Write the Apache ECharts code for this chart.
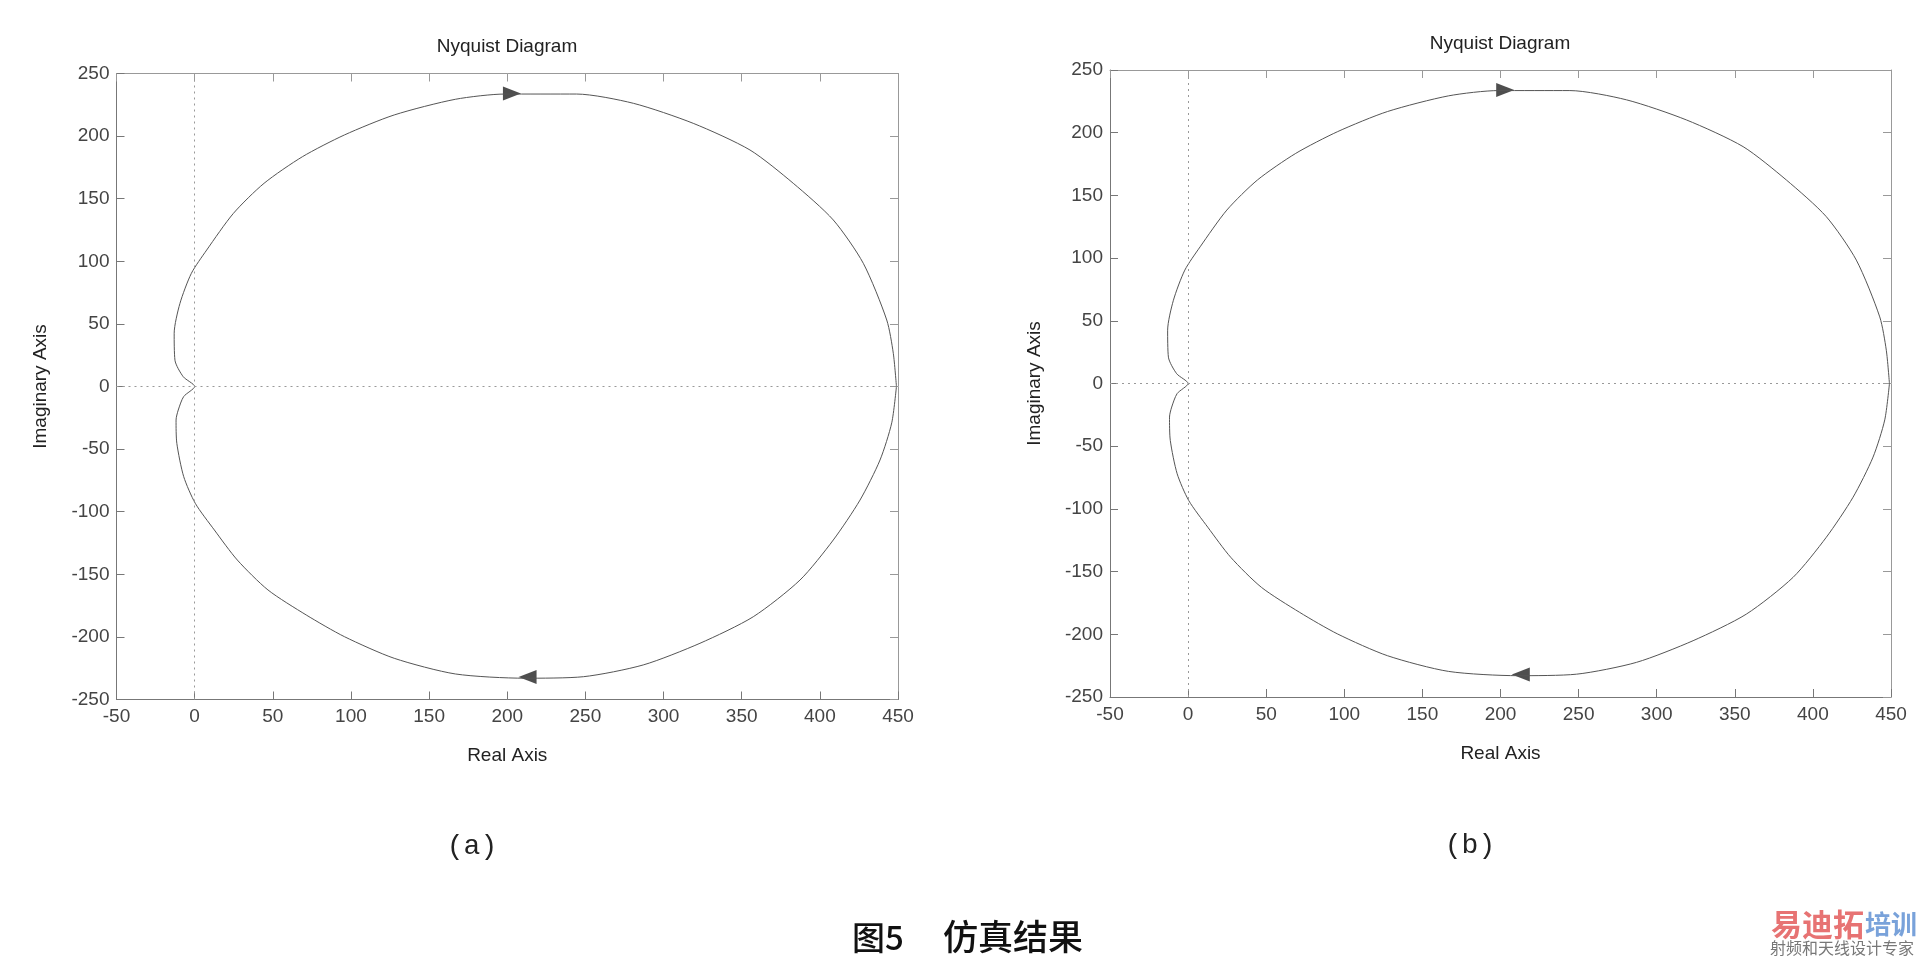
<!DOCTYPE html>
<html>
<head>
<meta charset="utf-8">
<title>Nyquist Diagram</title>
<script src="https://cdn.jsdelivr.net/npm/echarts@6/dist/echarts.min.js"></script>
<style>
  html, body { margin: 0; padding: 0; background: #fff; }
  #chart { width: 1923px; height: 966px; }
</style>
</head>
<body>
<div id="chart"></div>
<script>
// positive frequencies: from DC gain (450, 0) down round to the origin
const realLower = [449, 446, 438.5, 425.7, 408.6, 387.3, 357.4, 323.3, 287, 248.7, 211, 166.8, 127.7, 95.8, 71.4, 46.9, 27.3, 12.6, 0.4, -7, -11.4, -11.9, -10.5, -7, 0]
const imagLower = [0, -29, -58.7, -90.7, -122.6, -154.6, -183.9, -205.1, -222.4, -231.8, -233, -229.6, -217.1, -199.8, -182.5, -162.5, -138.6, -114.6, -93.3, -72, -45.4, -26.8, -18.8, -8, 0]
// negative frequencies: from the origin over the top back to (450, 0)
const realUpper = [0, -7.3, -12.6, -13.1, -9.4, -2.1, 7.7, 24.8, 44.4, 68.9, 95.8, 127.7, 166.8, 198.7, 244.4, 280.7, 319, 355.3, 383, 408.6, 427.8, 442.8, 447, 449]
const imagUpper = [0, 7.8, 21, 42.5, 66.4, 90.4, 109, 138.3, 162.3, 183.5, 200.9, 216.9, 229.4, 233.6, 233.6, 226.2, 210.2, 188.9, 162.3, 133, 98.4, 53.1, 26.5, 0]

// direction arrows
const arrowRe = [203, 213]
const arrowIm = [234, -232]
const arrowRot = [-90, 90]

const panels = ['(a)', '(b)']

const curve = realLower.map((x, i) => [x, imagLower[i]])
  .concat(realUpper.map((x, i) => [x, imagUpper[i]]))
const arrows = arrowRe.map((x, i) => ({ value: [x, arrowIm[i]], symbolRotate: arrowRot[i] }))

const font = 'Liberation Sans, Arial, sans-serif'
const grids = [
  { left: 116.5, top: 73.5, width: 781.5, height: 626 },
  { left: 1110, top: 70, width: 781, height: 627 }
]

function xAxes (g) {
  return [
    {
      gridIndex: g,
      type: 'value',
      min: -50,
      max: 450,
      interval: 50,
      position: 'bottom',
      name: 'Real Axis',
      nameLocation: 'middle',
      nameGap: 47,
      nameTextStyle: { fontFamily: font, fontSize: 19, color: '#222' },
      axisLine: { onZero: false, lineStyle: { color: '#777', width: 1 } },
      axisTick: { inside: true, length: 8, lineStyle: { color: '#777' } },
      axisLabel: { fontFamily: font, fontSize: 19, color: '#444', margin: 8 },
      splitLine: { show: false }
    },
    {
      gridIndex: g,
      type: 'value',
      min: -50,
      max: 450,
      interval: 50,
      position: 'top',
      axisLine: { onZero: false, lineStyle: { color: '#999', width: 1 } },
      axisTick: { inside: true, length: 8, lineStyle: { color: '#999' } },
      axisLabel: { show: false },
      splitLine: { show: false }
    }
  ]
}

function yAxes (g) {
  return [
    {
      gridIndex: g,
      type: 'value',
      min: -250,
      max: 250,
      interval: 50,
      position: 'left',
      name: 'Imaginary Axis',
      nameLocation: 'middle',
      nameGap: 66,
      nameTextStyle: { fontFamily: font, fontSize: 19, color: '#222' },
      axisLine: { onZero: false, lineStyle: { color: '#777', width: 1 } },
      axisTick: { inside: true, length: 8, lineStyle: { color: '#777' } },
      axisLabel: { fontFamily: font, fontSize: 19, color: '#444', margin: 7 },
      splitLine: { show: false }
    },
    {
      gridIndex: g,
      type: 'value',
      min: -250,
      max: 250,
      interval: 50,
      position: 'right',
      axisLine: { onZero: false, lineStyle: { color: '#999', width: 1 } },
      axisTick: { inside: true, length: 8, lineStyle: { color: '#999' } },
      axisLabel: { show: false },
      splitLine: { show: false }
    }
  ]
}

function seriesFor (g) {
  return [
    {
      type: 'line',
      xAxisIndex: g * 2,
      yAxisIndex: g * 2,
      data: curve,
      symbol: 'none',
      smooth: 0.25,
      lineStyle: { color: '#555', width: 1 },
      silent: true,
      markLine: {
        silent: true,
        symbol: 'none',
        label: { show: false },
        lineStyle: { type: [2, 4], color: '#999', width: 1 },
        data: [{ xAxis: 0 }, { yAxis: 0 }]
      }
    },
    {
      type: 'scatter',
      xAxisIndex: g * 2,
      yAxisIndex: g * 2,
      data: arrows,
      symbol: 'triangle',
      symbolSize: [14, 18],
      itemStyle: { color: '#222' },
      silent: true
    }
  ]
}

const titleX = [507, 1500]
const titleY = [47, 44]
const panelX = [472, 1470]
const panelY = [847, 846]

const graphic = []
titleX.forEach((x, i) => {
  graphic.push({
    type: 'text',
    x: x,
    y: titleY[i],
    style: { text: 'Nyquist Diagram', fontFamily: font, fontSize: 19, fill: '#222', textAlign: 'center', textVerticalAlign: 'middle' }
  })
  graphic.push({
    type: 'text',
    x: panelX[i],
    y: panelY[i],
    style: { text: panels[i], fontFamily: 'Liberation Mono, monospace', fontSize: 28, fill: '#222', textAlign: 'center', textVerticalAlign: 'middle' }
  })
})
// figure caption
graphic.push({
  type: 'text', x: 852, y: 937,
  style: { text: '图5', fontFamily: 'Noto Sans CJK SC', fontWeight: 500, fontSize: 33, fill: '#111', textAlign: 'left', textVerticalAlign: 'middle' }
})
graphic.push({
  type: 'text', x: 943, y: 937,
  style: { text: '仿真结果', fontFamily: 'Noto Sans CJK SC', fontWeight: 500, fontSize: 35, fill: '#111', textAlign: 'left', textVerticalAlign: 'middle' }
})
// watermark
graphic.push({
  type: 'text', x: 1771, y: 924,
  style: { text: '易迪拓', fontFamily: 'Noto Sans CJK SC', fontWeight: 'bold', fontSize: 31, fill: '#e77373', textAlign: 'left', textVerticalAlign: 'middle' }
})
graphic.push({
  type: 'text', x: 1865, y: 924,
  style: { text: '培训', fontFamily: 'Noto Sans CJK SC', fontWeight: 'bold', fontSize: 26, fill: '#79a2da', textAlign: 'left', textVerticalAlign: 'middle' }
})
graphic.push({
  type: 'text', x: 1770, y: 948,
  style: { text: '射频和天线设计专家', fontFamily: 'Noto Sans CJK SC', fontSize: 16, fill: '#777', textAlign: 'left', textVerticalAlign: 'middle' }
})

const myEchart = echarts.init(document.getElementById('chart'), null, { renderer: 'canvas' })
myEchart.setOption({
  animation: false,
  backgroundColor: '#fff',
  grid: grids,
  xAxis: xAxes(0).concat(xAxes(1)),
  yAxis: yAxes(0).concat(yAxes(1)),
  series: seriesFor(0).concat(seriesFor(1)),
  graphic: graphic
})
</script>
</body>
</html>
